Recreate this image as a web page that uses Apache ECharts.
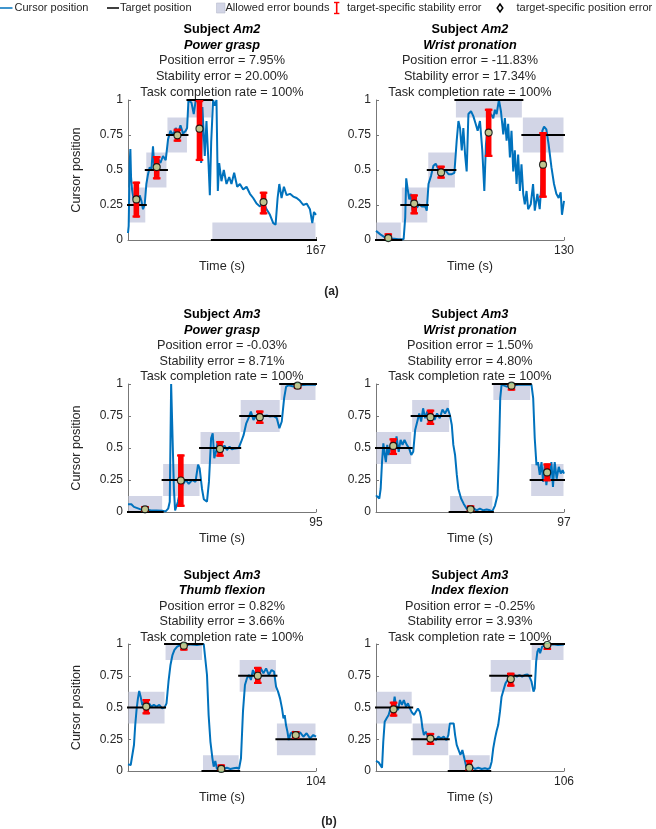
<!DOCTYPE html>
<html><head><meta charset="utf-8">
<script src="https://cdn.jsdelivr.net/npm/echarts@6/dist/echarts.min.js"></script>
<style>html,body{margin:0;padding:0;background:#fff}#c{width:656px;height:829px}</style>
</head><body><div id="c"></div>
<script>
// ---------- DATA ----------
// Panel 1: Subject Am2, Power grasp
const p1Duration = 167;
const p1Edges = [0, 15.8, 34.6, 52.8, 74.5, 167];
const p1Targets = [0.25, 0.5, 0.75, 1, 0];
const p1ErrT = [7.4, 25.5, 43.9, 63.5, 120.4];
const p1ErrLo = [0.16, 0.433, 0.702, 0.564, 0.183];
const p1ErrHi = [0.417, 0.60, 0.795, 1.0, 0.345];
const p1Pos = [0.29, 0.521, 0.748, 0.795, 0.271];
const p1Cursor = [[0,0.05],[0.6,0.1],[1.5,0.55],[2.1,0.65],[2.7,0.45],[3.6,0.36],[4.4,0.32],[5.9,0.27],[7.4,0.30],[8.9,0.25],[10.4,0.32],[11.9,0.28],[13.3,0.22],[14.8,0.25],[16.3,0.40],[17.8,0.47],[19.3,0.52],[20.8,0.50],[22.2,0.67],[23.1,0.55],[24.6,0.50],[26.7,0.58],[28.8,0.55],[31.1,0.60],[33.5,0.57],[35.6,0.72],[37.7,0.78],[40.0,0.75],[42.4,0.80],[44.5,0.76],[46.6,0.82],[48.9,0.76],[51.3,0.78],[52.5,0.80],[53.7,1.0],[56.4,0.98],[58.4,0.90],[60.2,1.0],[63.8,0.98],[65.0,0.55],[66.1,0.95],[68.2,0.6],[69.7,0.85],[71.5,0.55],[72.7,0.32],[73.9,0.7],[75.6,1.0],[77.1,0.96],[78.6,1.0],[79.8,0.35],[81.0,0.55],[83.0,0.42],[85.1,0.5],[87.5,0.40],[89.9,0.45],[91.9,0.40],[94.3,0.48],[97.0,0.38],[99.4,0.40],[102.3,0.36],[105.3,0.38],[108.3,0.33],[111.2,0.30],[114.2,0.26],[117.2,0.24],[120.1,0.27],[123.1,0.22],[126.1,0.18],[129.0,0.12],[131.1,0.11],[132.9,0.30],[134.4,0.40],[136.4,0.30],[138.5,0.38],[140.9,0.32],[143.9,0.33],[146.8,0.31],[149.8,0.30],[152.8,0.28],[155.7,0.25],[158.7,0.26],[161.6,0.22],[163.7,0.12],[165.2,0.20],[167,0.18]];
const p1Title = ['Am2', 'Power grasp', 'Position error = 7.95%', 'Stability error = 20.00%', 'Task completion rate = 100%'];

// Panel 2: Subject Am2, Wrist pronation
const p2Duration = 130;
const p2Edges = [0, 17.5, 35.8, 54.9, 101.2, 130];
const p2Targets = [0, 0.25, 0.5, 1, 0.75];
const p2ErrT = [8.5, 26.4, 45.0, 77.9, 115.5];
const p2ErrLo = [0, 0.183, 0.438, 0.593, 0.302];
const p2ErrHi = [0.048, 0.326, 0.531, 0.938, 0.771];
const p2Pos = [0.014, 0.26, 0.483, 0.767, 0.538];
const p2Cursor = [[0,0.065],[3.0,0.04],[6.4,0.017],[11.0,0.01],[15.6,0.005],[19.1,0.005],[20.2,0.16],[20.9,0.44],[21.8,0.37],[23.0,0.29],[24.1,0.33],[25.3,0.21],[26.4,0.29],[28.3,0.23],[29.9,0.255],[31.7,0.24],[34.0,0.24],[35.1,0.21],[36.3,0.40],[38.1,0.46],[39.7,0.53],[41.3,0.545],[43.2,0.505],[45.5,0.49],[47.8,0.50],[50.1,0.47],[52.4,0.47],[54.2,0.48],[55.8,0.71],[57.0,0.85],[58.1,0.80],[59.3,0.64],[60.4,0.80],[61.6,0.61],[62.7,0.49],[63.9,0.90],[65.7,0.92],[67.3,0.885],[68.9,0.83],[70.3,0.78],[71.9,0.85],[73.5,0.64],[74.9,0.35],[76.0,0.68],[77.6,0.85],[79.5,0.90],[81.1,0.87],[82.2,0.93],[83.4,0.90],[85.0,1.0],[86.4,0.92],[88.0,0.755],[89.1,0.87],[90.3,0.71],[91.4,0.83],[92.6,0.59],[93.7,0.78],[94.9,0.49],[96.0,0.64],[97.2,0.40],[98.3,0.61],[99.5,0.35],[100.6,0.54],[101.8,0.33],[102.9,0.255],[104.1,0.35],[105.2,0.22],[107.0,0.255],[108.6,0.40],[109.8,0.21],[111.6,0.33],[113.2,0.22],[114.4,0.40],[115.0,0.78],[116.2,0.81],[117.8,0.79],[119.4,0.68],[121.3,0.52],[123.1,0.40],[124.7,0.33],[126.3,0.30],[127.7,0.34],[128.6,0.18],[130,0.28]];
const p2Title = ['Am2', 'Wrist pronation', 'Position error = -11.83%', 'Stability error = 17.34%', 'Task completion rate = 100%'];

// Panel 3: Subject Am3, Power grasp
const p3Duration = 95;
const p3Edges = [0, 17.5, 36.4, 56.7, 76.9, 95];
const p3Targets = [0, 0.25, 0.5, 0.75, 1];
const p3ErrT = [8.6, 26.7, 46.5, 66.6, 85.7];
const p3ErrLo = [0, 0.04, 0.432, 0.688, 0.96];
const p3ErrHi = [0.047, 0.45, 0.555, 0.793, 1.0];
const p3Pos = [0.021, 0.246, 0.492, 0.741, 0.987];
const p3Cursor = [[0,0.06],[1.7,0.06],[3.0,0.04],[6.4,0.02],[11.4,0.013],[17.3,0.01],[19.0,0.005],[20.3,0.026],[21.1,0.08],[21.8,1.0],[22.5,1.0],[23.2,0.18],[23.8,0.013],[24.5,0.026],[25.2,0.08],[26.5,0.18],[27.9,0.22],[29.2,0.25],[30.7,0.22],[32.4,0.25],[34.1,0.235],[35.4,0.37],[36.2,0.34],[37.4,0.18],[38.3,0.10],[39.1,0.09],[39.9,0.08],[40.9,0.235],[42.0,0.576],[42.8,0.615],[43.6,0.42],[44.5,0.47],[45.3,0.55],[46.3,0.50],[47.5,0.47],[48.7,0.52],[50.0,0.484],[51.3,0.51],[52.5,0.49],[54.2,0.497],[55.9,0.50],[57.1,0.545],[58.4,0.60],[59.7,0.69],[60.9,0.733],[62.1,0.785],[63.4,0.72],[65.1,0.76],[66.8,0.746],[68.5,0.75],[70.1,0.754],[71.8,0.746],[73.5,0.75],[75.2,0.733],[76.5,0.654],[77.7,0.707],[78.9,0.89],[79.9,0.98],[81.1,0.99],[83.6,0.98],[87.0,0.99],[90.3,0.995],[95,0.995]];
const p3Title = ['Am3', 'Power grasp', 'Position error = -0.03%', 'Stability error = 8.71%', 'Task completion rate = 100%'];

// Panel 4: Subject Am3, Wrist pronation
const p4Duration = 97;
const p4Edges = [0, 18.4, 38.0, 60.3, 79.8, 97];
const p4Targets = [0.5, 0.75, 0, 1, 0.25];
const p4ErrT = [8.9, 28.1, 48.8, 69.9, 88.3];
const p4ErrLo = [0.445, 0.68, 0, 0.948, 0.24];
const p4ErrHi = [0.576, 0.80, 0.052, 1.0, 0.38];
const p4Pos = [0.516, 0.741, 0.021, 0.987, 0.309];
const p4Cursor = [[0,0.13],[0.7,0.118],[1.7,0.105],[2.4,0.18],[3.1,0.39],[3.8,0.537],[4.5,0.445],[5.1,0.39],[5.8,0.524],[6.5,0.445],[7.5,0.51],[8.6,0.55],[9.6,0.484],[10.6,0.59],[11.7,0.47],[12.7,0.563],[13.7,0.524],[14.7,0.563],[15.9,0.524],[17.1,0.497],[18.2,0.445],[19.2,0.47],[20.2,0.64],[21.3,0.707],[22.3,0.77],[23.3,0.707],[24.3,0.81],[25.4,0.733],[26.4,0.785],[27.4,0.694],[28.8,0.76],[30.2,0.72],[31.5,0.77],[32.9,0.733],[34.3,0.80],[35.6,0.77],[37.0,0.81],[38.1,0.76],[39.1,0.68],[39.9,0.524],[40.8,0.445],[41.7,0.29],[42.5,0.18],[43.9,0.105],[45.2,0.065],[46.8,0.026],[48.5,0.013],[50.2,0.03],[51.9,0.013],[53.6,0.026],[55.4,0.013],[57.1,0.02],[58.8,0.013],[60.0,0.005],[61.4,0.05],[62.7,0.13],[63.4,0.445],[64.1,0.89],[64.8,0.995],[65.6,0.99],[67.4,0.98],[69.9,0.987],[73.4,0.995],[76.8,0.995],[80.2,0.995],[81.1,0.89],[81.9,0.576],[82.8,0.366],[83.6,0.39],[84.5,0.29],[85.4,0.39],[86.2,0.236],[87.1,0.366],[87.9,0.21],[88.8,0.327],[89.6,0.26],[90.5,0.39],[91.3,0.196],[92.2,0.39],[93.2,0.26],[94.3,0.353],[95.3,0.30],[96.3,0.327],[97,0.30]];
const p4Title = ['Am3', 'Wrist pronation', 'Position error = 1.50%', 'Stability error = 4.80%', 'Task completion rate = 100%'];

// Panel 5: Subject Am3, Thumb flexion
const p5Duration = 104;
const p5Edges = [0, 20.5, 41.2, 61.5, 82.1, 104];
const p5Targets = [0.5, 1, 0, 0.75, 0.25];
const p5ErrT = [10.1, 30.9, 51.6, 71.8, 92.8];
const p5ErrLo = [0.446, 0.948, 0, 0.685, 0.255];
const p5ErrHi = [0.567, 1.0, 0.052, 0.82, 0.315];
const p5Pos = [0.507, 0.987, 0.016, 0.75, 0.283];
const p5Cursor = [[0,0.052],[1.5,0.047],[2.6,0.034],[3.3,0.205],[4.0,0.362],[4.8,0.493],[5.5,0.572],[6.2,0.63],[7.0,0.585],[7.9,0.52],[8.8,0.546],[9.7,0.52],[10.7,0.493],[11.6,0.533],[12.9,0.507],[14.3,0.52],[15.8,0.507],[17.3,0.52],[18.9,0.493],[20.2,0.499],[21.3,0.533],[22.4,0.703],[23.5,0.835],[24.6,0.913],[25.7,0.953],[27.2,0.979],[29.0,0.992],[31.8,0.987],[34.5,0.997],[38.2,0.992],[41.9,1.0],[43.0,0.992],[43.7,0.756],[44.6,0.44],[45.6,0.23],[46.7,0.10],[47.4,0.034],[48.3,0.079],[49.2,0.016],[51.0,0.026],[52.9,0.016],[54.7,0.026],[56.6,0.016],[58.4,0.021],[60.2,0.026],[61.4,0.016],[62.5,0.10],[63.6,0.467],[64.7,0.677],[65.8,0.73],[66.9,0.756],[68.0,0.717],[69.1,0.795],[70.2,0.756],[71.3,0.814],[72.4,0.73],[73.5,0.808],[74.9,0.769],[76.4,0.808],[77.9,0.756],[79.4,0.795],[80.8,0.782],[81.9,0.664],[83.0,0.625],[84.1,0.572],[85.2,0.493],[86.0,0.415],[86.7,0.44],[87.4,0.362],[88.2,0.31],[88.9,0.244],[90.0,0.297],[91.5,0.31],[93.3,0.283],[95.2,0.304],[97.0,0.27],[98.8,0.297],[100.7,0.257],[102.5,0.283],[104,0.27]];
const p5Title = ['Am3', 'Thumb flexion', 'Position error = 0.82%', 'Stability error = 3.66%', 'Task completion rate = 100%'];

// Panel 6: Subject Am3, Index flexion
const p6Duration = 106;
const p6Edges = [0, 20.4, 41.0, 64.4, 87.5, 106];
const p6Targets = [0.5, 0.25, 0, 0.75, 1];
const p6ErrT = [9.9, 30.7, 52.6, 76.0, 96.6];
const p6ErrLo = [0.428, 0.205, 0, 0.664, 0.953];
const p6ErrHi = [0.546, 0.30, 0.087, 0.774, 1.0];
const p6Pos = [0.486, 0.255, 0.026, 0.724, 0.992];
const p6Cursor = [[0,0.079],[1.5,0.068],[2.6,0.06],[3.4,0.026],[4.1,0.23],[4.9,0.388],[6.0,0.415],[7.1,0.441],[8.2,0.493],[9.4,0.467],[10.5,0.585],[11.2,0.52],[12.4,0.48],[13.5,0.559],[14.6,0.52],[15.7,0.559],[16.9,0.507],[18.0,0.533],[19.1,0.493],[20.2,0.462],[21.4,0.441],[22.5,0.467],[23.6,0.493],[24.7,0.467],[25.5,0.415],[26.2,0.336],[27.0,0.283],[28.1,0.31],[29.2,0.27],[30.7,0.244],[32.2,0.257],[33.7,0.244],[35.2,0.27],[36.7,0.257],[38.2,0.27],[39.7,0.244],[40.8,0.283],[41.6,0.375],[42.7,0.367],[43.8,0.375],[44.6,0.283],[45.5,0.205],[46.5,0.19],[47.6,0.126],[48.7,0.165],[49.8,0.10],[50.9,0.034],[52.1,0.021],[53.9,0.034],[55.8,0.016],[57.7,0.026],[59.6,0.016],[61.4,0.021],[62.9,0.016],[64.2,0.021],[65.2,0.073],[66.1,0.178],[67.1,0.257],[68.0,0.315],[68.9,0.362],[69.9,0.467],[70.8,0.585],[71.9,0.638],[73.0,0.69],[74.2,0.717],[75.3,0.73],[76.4,0.735],[77.9,0.756],[79.4,0.743],[80.9,0.756],[82.4,0.743],[83.9,0.756],[85.4,0.761],[86.5,0.743],[87.7,0.703],[88.8,0.625],[89.5,0.651],[90.3,0.861],[91.0,0.94],[91.8,0.966],[92.5,0.927],[93.7,0.979],[95.1,0.987],[97.0,0.992],[99.8,0.997],[102.6,0.992],[106,0.997]];
const p6Title = ['Am3', 'Index flexion', 'Position error = -0.25%', 'Stability error = 3.93%', 'Task completion rate = 100%'];

const yTicks = [0, 0.25, 0.5, 0.75, 1];
const boundHalfWidth = 0.125;
const legendLabels = ['Cursor position', 'Target position', 'Allowed error bounds', 'target-specific stability error', 'target-specific position error'];

// ---------- LAYOUT / STYLE ----------
const FONT = 'Liberation Sans, Arial, Helvetica, sans-serif';
const TXT = '#262626';
const BLUE = '#0072BD';
const BOXC = '#d2d5e6';
const RED = '#ff0000';
const GREEN = '#b2f5b2';

const panels = [
  {dur:p1Duration, edges:p1Edges, tg:p1Targets, et:p1ErrT, lo:p1ErrLo, hi:p1ErrHi, pos:p1Pos, cur:p1Cursor, title:p1Title},
  {dur:p2Duration, edges:p2Edges, tg:p2Targets, et:p2ErrT, lo:p2ErrLo, hi:p2ErrHi, pos:p2Pos, cur:p2Cursor, title:p2Title},
  {dur:p3Duration, edges:p3Edges, tg:p3Targets, et:p3ErrT, lo:p3ErrLo, hi:p3ErrHi, pos:p3Pos, cur:p3Cursor, title:p3Title},
  {dur:p4Duration, edges:p4Edges, tg:p4Targets, et:p4ErrT, lo:p4ErrLo, hi:p4ErrHi, pos:p4Pos, cur:p4Cursor, title:p4Title},
  {dur:p5Duration, edges:p5Edges, tg:p5Targets, et:p5ErrT, lo:p5ErrLo, hi:p5ErrHi, pos:p5Pos, cur:p5Cursor, title:p5Title},
  {dur:p6Duration, edges:p6Edges, tg:p6Targets, et:p6ErrT, lo:p6ErrLo, hi:p6ErrHi, pos:p6Pos, cur:p6Cursor, title:p6Title}
];
const colLeft = [128, 376];
const colW = 188;
const rowTop = [100, 384, 644];
const rowH = [140, 128, 127];
const titleLineY = [[29.5,45,60.5,76.3,92],[314.5,330,345.5,361,376.5],[575,590.5,606,621.5,637]];

const chart = echarts.init(document.getElementById('c'), null, {renderer:'canvas'});
const grids = [], xAxes = [], yAxes = [], series = [], graphics = [];

panels.forEach((p, i) => {
  const col = i % 2, row = Math.floor(i / 2);
  grids.push({left: colLeft[col], top: rowTop[row], width: colW, height: rowH[row], containLabel: false});
  const dur = p.dur;
  xAxes.push({
    type:'value', gridIndex:i, min:0, max:dur, interval:dur,
    name:'Time (s)', nameLocation:'middle', nameGap:20,
    nameTextStyle:{fontFamily:FONT, fontSize:12.7, color:TXT},
    axisLine:{show:true, lineStyle:{color:'#777', width:1}},
    axisTick:{show:true, inside:true, length:3, lineStyle:{color:'#777'}},
    axisLabel:{fontFamily:FONT, fontSize:12, color:TXT, margin:5, formatter:v => (v === dur ? String(dur) : '')},
    splitLine:{show:false}
  });
  yAxes.push({
    type:'value', gridIndex:i, min:0, max:1, interval:0.25,
    name: col === 0 ? 'Cursor position' : '', nameLocation:'middle', nameGap:45,
    nameTextStyle:{fontFamily:FONT, fontSize:12.7, color:TXT},
    axisLine:{show:true, lineStyle:{color:'#777', width:1}},
    axisTick:{show:true, inside:true, length:3, lineStyle:{color:'#777'}},
    axisLabel:{fontFamily:FONT, fontSize:12, color:TXT, margin:5,
      formatter:v => { const k = yTicks.findIndex(t => Math.abs(t - v) < 1e-6); return k >= 0 ? String(yTicks[k]) : ''; }},
    splitLine:{show:false}
  });
  const segs = p.tg.map((t, k) => [p.edges[k], p.edges[k+1], t]);
  // bounds boxes
  series.push({
    type:'custom', xAxisIndex:i, yAxisIndex:i, z:1, silent:true,
    data: segs,
    renderItem:(params, api) => {
      const s = api.value(0), e = api.value(1), t = api.value(2);
      const lo = Math.max(0, t - boundHalfWidth), hi = Math.min(1, t + boundHalfWidth);
      const a = api.coord([s, hi]), b = api.coord([e, lo]);
      return {type:'rect', shape:{x:a[0]+0.5, y:a[1], width:b[0]-a[0]-1, height:b[1]-a[1]}, style:{fill:BOXC}};
    }
  });
  // cursor trace
  series.push({
    type:'line', xAxisIndex:i, yAxisIndex:i, z:2, data:p.cur, showSymbol:false, symbol:'none',
    clip:false, lineStyle:{color:BLUE, width:2}, silent:true
  });
  // target lines
  series.push({
    type:'custom', xAxisIndex:i, yAxisIndex:i, z:3, silent:true,
    data: segs,
    renderItem:(params, api) => {
      const a = api.coord([api.value(0), api.value(2)]), b = api.coord([api.value(1), api.value(2)]);
      return {type:'line', shape:{x1:a[0]-1, y1:a[1], x2:b[0]+1, y2:b[1]}, style:{stroke:'#000', lineWidth:2}};
    }
  });
  // stability error bars
  series.push({
    type:'custom', xAxisIndex:i, yAxisIndex:i, z:4, silent:true,
    data: p.et.map((t, k) => [t, p.lo[k], p.hi[k]]),
    renderItem:(params, api) => {
      const b = api.coord([api.value(0), api.value(1)]), a = api.coord([api.value(0), api.value(2)]);
      return {type:'group', children:[
        {type:'rect', shape:{x:a[0]-2.8, y:a[1], width:5.6, height:b[1]-a[1]}, style:{fill:RED}},
        {type:'rect', shape:{x:a[0]-3.8, y:a[1], width:7.6, height:2.2}, style:{fill:RED}},
        {type:'rect', shape:{x:b[0]-3.8, y:b[1]-2.2, width:7.6, height:2.2}, style:{fill:RED}}
      ]};
    }
  });
  // position markers
  series.push({
    type:'scatter', xAxisIndex:i, yAxisIndex:i, z:5, silent:true, clip:false,
    data: p.et.map((t, k) => [t, p.pos[k]]),
    symbol:'circle', symbolSize:7,
    itemStyle:{color:GREEN, borderColor:'#000', borderWidth:1.2}
  });
  // titles
  const cx = colLeft[col] + colW / 2;
  const ys = titleLineY[row];
  const rich = {
    b:{fontFamily:FONT, fontSize:12.7, fontWeight:'bold', color:TXT},
    bi:{fontFamily:FONT, fontSize:12.7, fontWeight:'bold', fontStyle:'italic', color:TXT}
  };
  graphics.push({type:'text', x:cx, y:ys[0], silent:true, style:{text:'{b|Subject }{bi|' + p.title[0] + '}', rich, align:'center', verticalAlign:'middle', textAlign:'center', textVerticalAlign:'middle'}});
  graphics.push({type:'text', x:cx, y:ys[1], silent:true, style:{text:'{bi|' + p.title[1] + '}', rich, align:'center', verticalAlign:'middle', textAlign:'center', textVerticalAlign:'middle'}});
  for (let k = 2; k < 5; k++) {
    graphics.push({type:'text', x:cx, y:ys[k], silent:true, style:{text:p.title[k], fontFamily:FONT, fontSize:12.7, fill:TXT, align:'center', verticalAlign:'middle', textAlign:'center', textVerticalAlign:'middle'}});
  }
});

// panel labels
graphics.push({type:'text', x:331.5, y:291.5, silent:true, style:{text:'(a)', fontFamily:FONT, fontSize:12, fontWeight:'bold', fill:TXT, align:'center', verticalAlign:'middle', textAlign:'center', textVerticalAlign:'middle'}});
graphics.push({type:'text', x:329, y:821.5, silent:true, style:{text:'(b)', fontFamily:FONT, fontSize:12, fontWeight:'bold', fill:TXT, align:'center', verticalAlign:'middle', textAlign:'center', textVerticalAlign:'middle'}});

// legend (drawn)
const LY = 8;
const lf = {fontFamily:FONT, fontSize:11, fill:TXT, align:'left', verticalAlign:'middle', textAlign:'left', textVerticalAlign:'middle'};
graphics.push({type:'line', shape:{x1:0, y1:LY, x2:12.5, y2:LY}, style:{stroke:BLUE, lineWidth:1.5}, silent:true});
graphics.push({type:'text', x:14.5, y:LY, style:Object.assign({text:legendLabels[0]}, lf), silent:true});
graphics.push({type:'line', shape:{x1:107, y1:LY, x2:119, y2:LY}, style:{stroke:'#000', lineWidth:1.5}, silent:true});
graphics.push({type:'text', x:120, y:LY, style:Object.assign({text:legendLabels[1]}, lf), silent:true});
graphics.push({type:'rect', shape:{x:216.5, y:3, width:8.5, height:10}, style:{fill:BOXC, stroke:'#b8bccf', lineWidth:0.6}, silent:true});
graphics.push({type:'text', x:225.5, y:LY, style:Object.assign({text:legendLabels[2]}, lf), silent:true});
graphics.push({type:'line', shape:{x1:336.7, y1:2.5, x2:336.7, y2:13.5}, style:{stroke:RED, lineWidth:1.6}, silent:true});
graphics.push({type:'line', shape:{x1:334, y1:2.5, x2:339.4, y2:2.5}, style:{stroke:RED, lineWidth:1.4}, silent:true});
graphics.push({type:'line', shape:{x1:334, y1:13.5, x2:339.4, y2:13.5}, style:{stroke:RED, lineWidth:1.4}, silent:true});
graphics.push({type:'text', x:347, y:LY, style:Object.assign({text:legendLabels[3]}, lf), silent:true});
graphics.push({type:'polygon', shape:{points:[[500,4],[502.8,8],[500,12],[497.2,8]]}, style:{fill:'#fff', stroke:'#000', lineWidth:1.5}, silent:true});
graphics.push({type:'text', x:516.5, y:LY, style:Object.assign({text:legendLabels[4]}, lf), silent:true});

chart.setOption({
  animation:false,
  backgroundColor:'#fff',
  grid:grids, xAxis:xAxes, yAxis:yAxes, series:series,
  graphic:{elements:graphics}
});
</script></body></html>
